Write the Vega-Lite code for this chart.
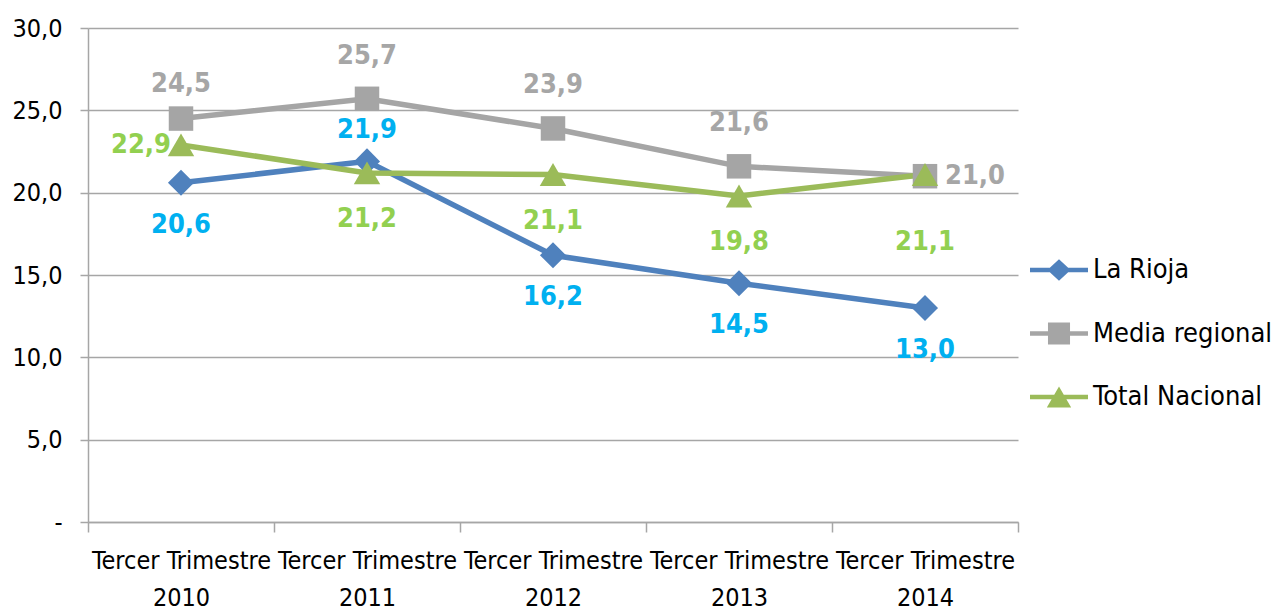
{
  "$schema": "https://vega.github.io/schema/vega-lite/v6.json",
  "width": 930,
  "height": 494,
  "autosize": {"type": "none"},
  "padding": {"left": 88, "top": 28, "right": 254, "bottom": 94},
  "background": "white",
  "config": {
    "locale": {"number": {"decimal": ",", "thousands": ".", "grouping": [3], "currency": ["", " €"]}},
    "view": {"stroke": null},
    "font": "Liberation Sans Narrow, DejaVu Sans Condensed, sans-serif"
  },
  "data": {
    "values": [
      {"periodo": "Tercer Trimestre 2010", "serie": "La Rioja", "valor": 20.6},
      {"periodo": "Tercer Trimestre 2011", "serie": "La Rioja", "valor": 21.9},
      {"periodo": "Tercer Trimestre 2012", "serie": "La Rioja", "valor": 16.2},
      {"periodo": "Tercer Trimestre 2013", "serie": "La Rioja", "valor": 14.5},
      {"periodo": "Tercer Trimestre 2014", "serie": "La Rioja", "valor": 13.0},
      {"periodo": "Tercer Trimestre 2010", "serie": "Media regional", "valor": 24.5},
      {"periodo": "Tercer Trimestre 2011", "serie": "Media regional", "valor": 25.7},
      {"periodo": "Tercer Trimestre 2012", "serie": "Media regional", "valor": 23.9},
      {"periodo": "Tercer Trimestre 2013", "serie": "Media regional", "valor": 21.6},
      {"periodo": "Tercer Trimestre 2014", "serie": "Media regional", "valor": 21.0},
      {"periodo": "Tercer Trimestre 2010", "serie": "Total Nacional", "valor": 22.9},
      {"periodo": "Tercer Trimestre 2011", "serie": "Total Nacional", "valor": 21.2},
      {"periodo": "Tercer Trimestre 2012", "serie": "Total Nacional", "valor": 21.1},
      {"periodo": "Tercer Trimestre 2013", "serie": "Total Nacional", "valor": 19.8},
      {"periodo": "Tercer Trimestre 2014", "serie": "Total Nacional", "valor": 21.1}
    ]
  },
  "encoding": {
    "x": {
      "field": "periodo", "type": "nominal", "sort": null,
      "scale": {"type": "band", "paddingInner": 0, "paddingOuter": 0},
      "axis": {
        "title": null, "labelAngle": 0, "tickBand": "extent", "grid": false,
        "domainColor": "#A6A6A6", "domainWidth": 1.5,
        "tickColor": "#A6A6A6", "tickSize": 10, "tickWidth": 1.5,
        "labelFontSize": 25, "labelColor": "#000000", "labelPadding": 16,
        "labelLineHeight": 37, "labelBaseline": "top", "labelOverlap": false,
        "labelBound": false, "labelFlush": false,
        "labelExpr": "[slice(datum.label, 0, 16), slice(datum.label, 17)]"
      }
    },
    "y": {
      "field": "valor", "type": "quantitative",
      "scale": {"domain": [0, 30], "nice": false},
      "axis": {
        "title": null, "values": [0, 5, 10, 15, 20, 25, 30], "format": ".1f",
        "labelExpr": "datum.value == 0 ? '-' : datum.label",
        "gridColor": "#A6A6A6", "gridWidth": 1.5,
        "domainColor": "#A6A6A6", "domainWidth": 1.5,
        "tickColor": "#A6A6A6", "tickSize": 8, "tickWidth": 1.5,
        "labelFontSize": 25, "labelPadding": 18, "labelColor": "#000000"
      }
    }
  },
  "layer": [
    {
      "mark": {"type": "line", "strokeWidth": 5.5},
      "encoding": {
        "color": {
          "field": "serie", "type": "nominal",
          "scale": {"domain": ["La Rioja", "Media regional", "Total Nacional"], "range": ["#4F81BD", "#A5A5A5", "#9BBB59"]},
          "legend": {
            "title": null, "orient": "none", "legendX": 942, "legendY": 213,
            "symbolSize": 3364, "symbolStrokeWidth": 0, "labelOffset": 5, "rowPadding": 21.5,
            "labelFontSize": 27, "labelColor": "#000000", "labelLimit": 300,
            "encode": {
              "symbols": {
                "update": {
                  "shape": {"signal": "datum.value === 'La Rioja' ? 'M-1,-0.08L1,-0.08L1,0.08L-1,0.08Z M-0.4,0L0,-0.37L0.4,0L0,0.37Z' : datum.value === 'Media regional' ? 'M-1,-0.08L1,-0.08L1,0.08L-1,0.08Z M-0.38,-0.38L0.38,-0.38L0.38,0.38L-0.38,0.38Z' : 'M-1,-0.08L1,-0.08L1,0.08L-1,0.08Z M-0.42,0.36L0,-0.36L0.42,0.36Z'"},
                  "fill": {"scale": "color", "field": "value"},
                  "fillOpacity": {"value": 1},
                  "stroke": {"value": "transparent"},
                  "strokeWidth": {"value": 0}
                }
              }
            }
          }
        }
      }
    },
    {
      "transform": [{"filter": "datum.serie == 'La Rioja'"}],
      "mark": {"type": "point", "filled": true, "shape": "diamond", "size": 680, "opacity": 1},
      "encoding": {"color": {"field": "serie", "type": "nominal"}}
    },
    {
      "transform": [{"filter": "datum.serie == 'Media regional'"}],
      "mark": {"type": "point", "filled": true, "shape": "square", "size": 600, "opacity": 1},
      "encoding": {"color": {"field": "serie", "type": "nominal"}}
    },
    {
      "transform": [{"filter": "datum.serie == 'Total Nacional'"}],
      "mark": {"type": "point", "filled": true, "shape": "triangle-up", "size": 700, "opacity": 1},
      "encoding": {"color": {"field": "serie", "type": "nominal"}}
    },
    {
      "transform": [{"filter": "datum.serie == 'La Rioja' && datum.periodo != 'Tercer Trimestre 2011'"}],
      "mark": {"type": "text", "dy": 42, "fontSize": 27, "fontWeight": "bold", "color": "#00B0F0"},
      "encoding": {"text": {"field": "valor", "type": "quantitative", "format": ".1f"}}
    },
    {
      "transform": [{"filter": "datum.serie == 'La Rioja' && datum.periodo == 'Tercer Trimestre 2011'"}],
      "mark": {"type": "text", "dy": -31, "fontSize": 27, "fontWeight": "bold", "color": "#00B0F0"},
      "encoding": {"text": {"field": "valor", "type": "quantitative", "format": ".1f"}}
    },
    {
      "transform": [{"filter": "datum.serie == 'Media regional' && datum.periodo != 'Tercer Trimestre 2014' && datum.periodo != 'Tercer Trimestre 2010'"}],
      "mark": {"type": "text", "dy": -43, "fontSize": 27, "fontWeight": "bold", "color": "#A6A6A6"},
      "encoding": {"text": {"field": "valor", "type": "quantitative", "format": ".1f"}}
    },
    {
      "transform": [{"filter": "datum.serie == 'Media regional' && datum.periodo == 'Tercer Trimestre 2010'"}],
      "mark": {"type": "text", "dy": -35, "fontSize": 27, "fontWeight": "bold", "color": "#A6A6A6"},
      "encoding": {"text": {"field": "valor", "type": "quantitative", "format": ".1f"}}
    },
    {
      "transform": [{"filter": "datum.serie == 'Media regional' && datum.periodo == 'Tercer Trimestre 2014'"}],
      "mark": {"type": "text", "dx": 50, "dy": 0, "fontSize": 27, "fontWeight": "bold", "color": "#A6A6A6"},
      "encoding": {"text": {"field": "valor", "type": "quantitative", "format": ".1f"}}
    },
    {
      "transform": [{"filter": "datum.serie == 'Total Nacional' && datum.periodo != 'Tercer Trimestre 2010' && datum.periodo != 'Tercer Trimestre 2014'"}],
      "mark": {"type": "text", "dy": 46, "fontSize": 27, "fontWeight": "bold", "color": "#92D050"},
      "encoding": {"text": {"field": "valor", "type": "quantitative", "format": ".1f"}}
    },
    {
      "transform": [{"filter": "datum.serie == 'Total Nacional' && datum.periodo == 'Tercer Trimestre 2014'"}],
      "mark": {"type": "text", "dy": 67, "fontSize": 27, "fontWeight": "bold", "color": "#92D050"},
      "encoding": {"text": {"field": "valor", "type": "quantitative", "format": ".1f"}}
    },
    {
      "transform": [{"filter": "datum.serie == 'Total Nacional' && datum.periodo == 'Tercer Trimestre 2010'"}],
      "mark": {"type": "text", "dx": -40, "dy": 0, "fontSize": 27, "fontWeight": "bold", "color": "#92D050"},
      "encoding": {"text": {"field": "valor", "type": "quantitative", "format": ".1f"}}
    }
  ]
}
